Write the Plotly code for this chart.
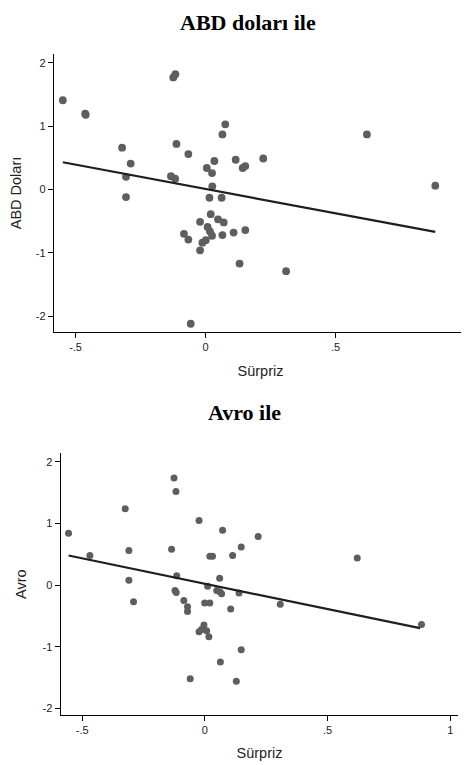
import plotly.graph_objects as go

# ---- Data: top panel (ABD doları) ----
usd_x = [-0.549, -0.463, -0.461, -0.321, -0.288, -0.306, -0.306, -0.124, -0.116, -0.112,
         -0.133, -0.117, -0.066, -0.083, -0.066, -0.057, -0.021, -0.021, -0.012, 0.001,
         0.005, 0.025, 0.026, 0.015, 0.020, 0.008, 0.017, 0.025, 0.034, 0.048,
         0.070, 0.065, 0.062, 0.065, 0.076, 0.108, 0.116, 0.143, 0.153, 0.153,
         0.131, 0.222, 0.310, 0.621, 0.884]
usd_y = [1.41, 1.20, 1.18, 0.66, 0.41, 0.20, -0.12, 1.77, 1.82, 0.72,
         0.21, 0.17, 0.56, -0.70, -0.79, -2.12, -0.51, -0.96, -0.84, -0.80,
         0.34, 0.26, 0.05, -0.13, -0.39, -0.59, -0.66, -0.73, 0.45, -0.47,
         -0.52, -0.72, -0.13, 0.87, 1.03, -0.68, 0.47, 0.34, 0.37, -0.64,
         -1.17, 0.49, -1.29, 0.87, 0.06]
usd_fit_x = [-0.549, 0.884]
usd_fit_y = [0.43, -0.67]

# ---- Data: bottom panel (Avro) ----
eur_x = [-0.556, -0.469, -0.325, -0.310, -0.310, -0.291, -0.126, -0.118, -0.136, -0.115,
         -0.122, -0.117, -0.086, -0.071, -0.071, -0.024, -0.024, -0.014, -0.004, 0.007,
         0.016, -0.001, 0.020, 0.011, 0.020, 0.031, 0.060, 0.048, 0.061, 0.068,
         0.072, 0.063, 0.105, 0.113, 0.139, 0.148, 0.148, 0.217, -0.060, 0.128,
         0.307, 0.621, 0.883]
eur_y = [0.84, 0.48, 1.24, 0.56, 0.08, -0.27, 1.74, 1.52, 0.58, 0.15,
         -0.09, -0.12, -0.25, -0.35, -0.43, 1.05, -0.76, -0.72, -0.65, -0.74,
         -0.84, -0.29, -0.29, -0.02, 0.47, 0.47, 0.11, -0.09, -0.11, -0.14,
         0.89, -1.25, -0.39, 0.48, -0.13, 0.62, -1.05, 0.79, -1.52, -1.56,
         -0.31, 0.44, -0.64]
eur_fit_x = [-0.556, 0.877]
eur_fit_y = [0.48, -0.70]

x_tickvals = [-0.5, 0, 0.5, 1]
x_ticktext = ["-.5", "0", ".5", "1"]
y_tickvals = [-2, -1, 0, 1, 2]
y_ticktext = ["-2", "-1", "0", "1", "2"]

titles = ["ABD doları ile", "Avro ile"]
x_title = "Sürpriz"
y_titles = ["ABD Doları", "Avro"]

# page body has an 8px margin; figure placed at (8, 8)
OFF = 8
W, H = 469 - OFF, 765 - OFF
dot_color = "#5e5e5e"
line_color = "#1e1e1e"
sans = "Liberation Sans, Arial, sans-serif"
serif = "Liberation Serif, Times New Roman, serif"


def fx(px):
    return (px - OFF) / W


def fy(py):
    return 1 - (py - OFF) / H


fig = go.Figure()
fig.add_trace(go.Scatter(x=usd_x, y=usd_y, mode="markers",
                         marker=dict(color=dot_color, size=7.8), xaxis="x", yaxis="y", showlegend=False))
fig.add_trace(go.Scatter(x=usd_fit_x, y=usd_fit_y, mode="lines",
                         line=dict(color=line_color, width=2.2), xaxis="x", yaxis="y", showlegend=False))
fig.add_trace(go.Scatter(x=eur_x, y=eur_y, mode="markers",
                         marker=dict(color=dot_color, size=7), xaxis="x2", yaxis="y2", showlegend=False))
fig.add_trace(go.Scatter(x=eur_fit_x, y=eur_fit_y, mode="lines",
                         line=dict(color=line_color, width=2.2), xaxis="x2", yaxis="y2", showlegend=False))


def xax(domain, rng, anchor, standoff):
    return dict(domain=domain, range=rng, anchor=anchor, showgrid=False, zeroline=False,
                automargin=False,
                showline=True, linecolor="black", linewidth=1.3, ticks="outside", ticklen=5,
                tickcolor="black", tickwidth=1, tickvals=x_tickvals, ticktext=x_ticktext,
                tickfont=dict(family=sans, size=11, color="#222"),
                title=dict(text=x_title, font=dict(family=sans, size=14.5, color="#222"), standoff=standoff))


def yax(domain, rng, anchor, title):
    return dict(domain=domain, range=rng, anchor=anchor, showgrid=False, zeroline=False,
                automargin=False,
                showline=True, linecolor="black", linewidth=1.3, ticks="outside", ticklen=5,
                tickcolor="black", tickwidth=1, tickvals=y_tickvals, ticktext=y_ticktext,
                tickfont=dict(family=sans, size=11, color="#222"),
                title=dict(text=title, font=dict(family=sans, size=14.5, color="#222"), standoff=12))


fig.update_layout(
    width=W, height=H, autosize=False,
    margin=dict(l=0, r=0, t=0, b=0),
    paper_bgcolor="white", plot_bgcolor="white",
    xaxis=xax([fx(54), fx(467)], [-0.583, 1.006], "y", 13),
    yaxis=yax([fy(332), fy(54)], [-2.25, 2.14], "x", y_titles[0]),
    xaxis2=xax([fx(60.7), fx(458.3)], [-0.588, 1.033], "y2", 12),
    yaxis2=yax([fy(715), fy(453.3)], [-2.11, 2.14], "x2", y_titles[1]),
    annotations=[
        dict(text="<b>" + titles[0] + "</b>", x=fx(247.5), y=fy(8.5), xref="paper", yref="paper",
             showarrow=False, xanchor="center", yanchor="top",
             font=dict(family=serif, size=22, color="black")),
        dict(text="<b>" + titles[1] + "</b>", x=fx(244.2), y=fy(413), xref="paper", yref="paper",
             showarrow=False, xanchor="center", yanchor="middle",
             font=dict(family=serif, size=22, color="black")),
    ],
)

fig.write_html("out.html")
